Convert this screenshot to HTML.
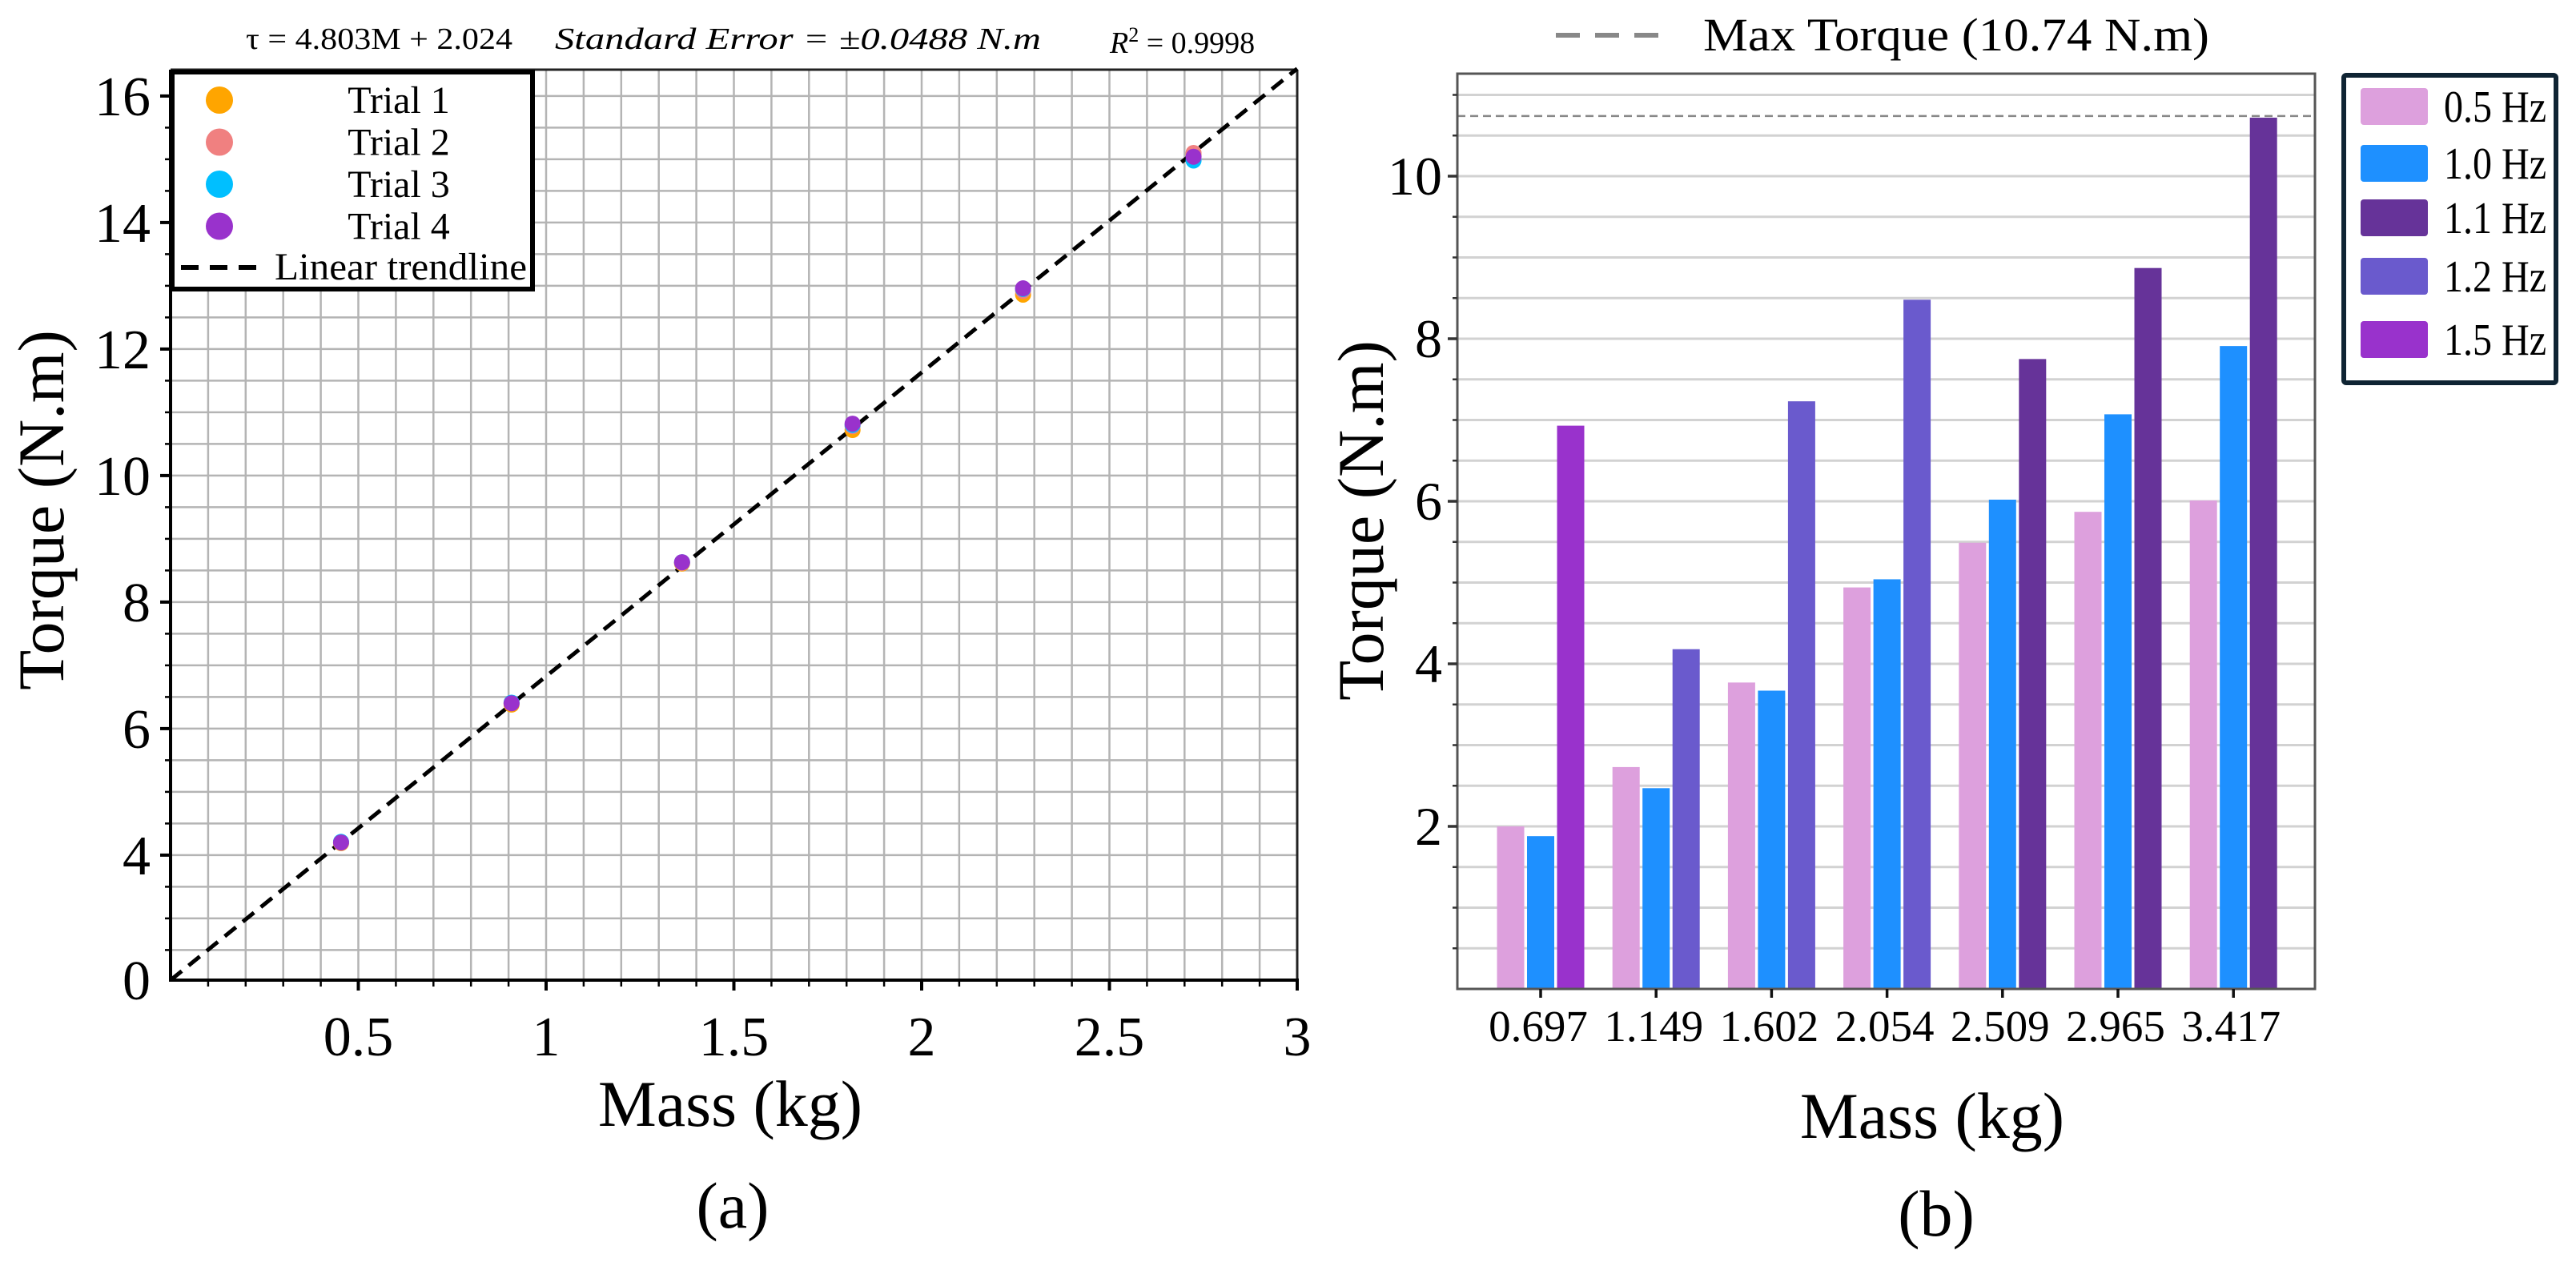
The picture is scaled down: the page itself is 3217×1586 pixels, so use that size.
<!DOCTYPE html>
<html><head><meta charset="utf-8">
<style>
html,body{margin:0;padding:0;background:#fff;}
svg{display:block;font-family:"Liberation Serif",serif;}
</style></head>
<body>
<svg id="chart" width="3217" height="1586" viewBox="0 0 3217 1586" xmlns="http://www.w3.org/2000/svg">
<g id="left"></g>
<g id="right"></g>
</svg>
<script>
// ---- Panel (a) data ----
const massA = [0.454, 0.908, 1.362, 1.816, 2.270, 2.724];
const trial1 = [4.19, 6.38, 8.61, 10.72, 12.86, 15.08];
const trial2 = [4.20, 6.40, 8.62, 10.78, 12.92, 15.10];
const trial3 = [4.21, 6.41, 8.63, 10.80, 12.95, 14.98];
const trial4 = [4.20, 6.40, 8.63, 10.82, 12.96, 15.04];
const trialNames = ["Trial 1", "Trial 2", "Trial 3", "Trial 4"];
const trendSlope = [4.803];
const trendIntercept = [2.024];
const xTicksA = [0.5, 1, 1.5, 2, 2.5, 3];
const yTicksA = [4, 6, 8, 10, 12, 14, 16];

// ---- Panel (b) data ----
const massB = ["0.697", "1.149", "1.602", "2.054", "2.509", "2.965", "3.417"];
const freqNames = ["0.5 Hz", "1.0 Hz", "1.1 Hz", "1.2 Hz", "1.5 Hz"];
const val05 = [2.00, 2.73, 3.77, 4.94, 5.49, 5.87, 6.01];
const val10 = [1.88, 2.47, 3.67, 5.04, 6.02, 7.07, 7.91];
const valThird = [6.93, 4.18, 7.23, 8.48, 7.75, 8.87, 10.72];
const thirdFreq = ["1.5 Hz", "1.2 Hz", "1.2 Hz", "1.2 Hz", "1.1 Hz", "1.1 Hz", "1.1 Hz"];
const maxTorque = [10.74];
const yTicksB = [2, 4, 6, 8, 10];

const NS = "http://www.w3.org/2000/svg";
function mk(parent, tag, attrs, text) {
  const e = document.createElementNS(NS, tag);
  for (const k in attrs) e.setAttribute(k, attrs[k]);
  if (text !== undefined) e.textContent = text;
  parent.appendChild(e);
  return e;
}

// ================= Panel (a) =================
const L = document.getElementById('left');
const ax = {x0: 213, x1: 1620, yb: 1224, yt: 87, vmin: 2.024, ppu: 79};
const xA = v => ax.x0 + v * (ax.x1 - ax.x0) / 3;
const yA = v => ax.yb - (v - ax.vmin) * ax.ppu;

for (let i = 1; i < 30; i++) {
  const g = mk(L, 'line', {x1: xA(i / 10), x2: xA(i / 10), y1: ax.yt, y2: ax.yb, stroke: '#b4b4b4', 'stroke-width': 2.5});
  
  
}
for (let v = 2.5; v <= 16.4; v += 0.5) {
  const g = mk(L, 'line', {x1: ax.x0, x2: ax.x1, y1: yA(v), y2: yA(v), stroke: '#b4b4b4', 'stroke-width': 2.5});
  
  
}
let f = mk(L, 'line', {x1: ax.x0, x2: ax.x1, y1: ax.yt, y2: ax.yt, stroke: '#222', 'stroke-width': 3});
 
f = mk(L, 'line', {x1: ax.x1, x2: ax.x1, y1: ax.yt, y2: ax.yb, stroke: '#222', 'stroke-width': 3});
 
f = mk(L, 'line', {x1: ax.x0, x2: ax.x0, y1: ax.yt, y2: ax.yb + 2, stroke: '#000', 'stroke-width': 4});
 
f = mk(L, 'line', {x1: ax.x0, x2: ax.x1 + 2, y1: ax.yb, y2: ax.yb, stroke: '#000', 'stroke-width': 4});
 

for (let i = 1; i <= 30; i++) {
  const major = i % 5 === 0;
  const t = mk(L, 'line', {x1: xA(i / 10), x2: xA(i / 10), y1: ax.yb, y2: ax.yb + (major ? 13 : 8), stroke: '#000', 'stroke-width': major ? 4 : 2.5});
   
}
xTicksA.forEach(v => {
  const t = mk(L, 'text', {x: xA(v), y: 1318, 'font-size': 70, 'text-anchor': 'middle'}, String(v));
   
});
for (let v = 2.5; v <= 16.4; v += 0.5) {
  const major = Math.abs(v - Math.round(v)) < 1e-6 && Math.round(v) % 2 === 0;
  const t = mk(L, 'line', {x1: ax.x0 - (major ? 13 : 7), x2: ax.x0, y1: yA(v), y2: yA(v), stroke: '#000', 'stroke-width': major ? 4 : 2.5});
   
}
yTicksA.forEach(v => {
  const t = mk(L, 'text', {x: 188, y: yA(v) + 24, 'font-size': 70, 'text-anchor': 'end'}, String(v));
   
});
let z = mk(L, 'text', {x: 188, y: ax.yb + 24, 'font-size': 70, 'text-anchor': 'end'}, '0');
 

const tl = mk(L, 'line', {x1: xA(0), y1: yA(trendIntercept[0]), x2: xA(3), y2: yA(trendSlope[0] * 3 + trendIntercept[0]), stroke: '#000', 'stroke-width': 5, 'stroke-dasharray': '18 11'});
 

const trialColors = ['#ffa500', '#f08080', '#00bfff', '#9932cc'];
[trial1, trial2, trial3, trial4].forEach((arr, k) => {
  arr.forEach((v, i) => {
    const c = mk(L, 'circle', {cx: xA(massA[i]), cy: yA(v), r: 10, fill: trialColors[k]});
    
    
  });
});

const lg = mk(L, 'g', {});
 
mk(lg, 'rect', {x: 215, y: 90, width: 450, height: 271, fill: '#fff', stroke: '#000', 'stroke-width': 6});
trialNames.forEach((n, k) => {
  const cy = 125 + k * 52.5;
  const e = mk(lg, 'g', {});
   
  mk(e, 'circle', {cx: 274, cy: cy, r: 17, fill: trialColors[k]});
  mk(e, 'text', {x: 498, y: cy + 16, 'font-size': 48, 'text-anchor': 'middle'}, n);
});
const le = mk(lg, 'g', {});
 
mk(le, 'line', {x1: 226, x2: 320, y1: 334, y2: 334, stroke: '#000', 'stroke-width': 6, 'stroke-dasharray': '22 14'});
mk(le, 'text', {x: 343, y: 349, 'font-size': 48, textLength: 315, lengthAdjust: 'spacingAndGlyphs'}, 'Linear trendline');

let a = mk(L, 'text', {x: 307, y: 61, 'font-size': 38, textLength: 333, lengthAdjust: 'spacingAndGlyphs'}, 'τ = 4.803M + 2.024');
 
a = mk(L, 'text', {x: 693, y: 61, 'font-size': 38, 'font-style': 'italic', textLength: 607, lengthAdjust: 'spacingAndGlyphs'}, 'Standard Error =  ±0.0488 N.m');
 
a = mk(L, 'text', {x: 1386, y: 66, 'font-size': 38});
 
mk(a, 'tspan', {'font-style': 'italic'}, 'R');
mk(a, 'tspan', {dy: -14, 'font-size': 26}, '2');
mk(a, 'tspan', {dy: 14}, ' = 0.9998');

a = mk(L, 'text', {x: 912, y: 1406, 'font-size': 82, 'text-anchor': 'middle'}, 'Mass (kg)');
 
a = mk(L, 'text', {x: 0, y: 0, 'font-size': 82, 'text-anchor': 'middle', transform: 'translate(79,637) rotate(-90)'}, 'Torque (N.m)');
 
a = mk(L, 'text', {x: 915, y: 1533, 'font-size': 82, 'text-anchor': 'middle'}, '(a)');
 

// ================= Panel (b) =================
const R = document.getElementById('right');
const bx = {x0: 1820, x1: 2891, yb: 1235, yt: 92, ppu: 101.5, c0: 1924, step: 144.2};
const yB = v => bx.yb - v * bx.ppu;
const xB = i => bx.c0 + i * bx.step;

for (let v = 0.5; v <= 11.2; v += 0.5) {
  const g = mk(R, 'line', {x1: bx.x0, x2: bx.x1, y1: yB(v), y2: yB(v), stroke: '#d2d2d2', 'stroke-width': 3});
  
  
}
const colorOf = {"0.5 Hz": '#dda0dd', "1.0 Hz": '#1e90ff', "1.1 Hz": '#663399', "1.2 Hz": '#6a5acd', "1.5 Hz": '#9932cc'};
const bw = 34, slot = 37.5;
massB.forEach((m, i) => {
  const series = [[val05[i], "0.5 Hz"], [val10[i], "1.0 Hz"], [valThird[i], thirdFreq[i]]];
  series.forEach((s, k) => {
    const x = xB(i) + (k - 1) * slot - bw / 2;
    const b = mk(R, 'rect', {x: x, y: yB(s[0]), width: bw, height: s[0] * bx.ppu, fill: colorOf[s[1]]});
    
    
  });
});
let ml = mk(R, 'line', {x1: bx.x0, x2: bx.x1, y1: yB(maxTorque[0]), y2: yB(maxTorque[0]), stroke: '#888', 'stroke-width': 2.5, 'stroke-dasharray': '10 6'});
 
let fr = mk(R, 'rect', {x: bx.x0, y: bx.yt, width: bx.x1 - bx.x0, height: bx.yb - bx.yt, fill: 'none', stroke: '#555', 'stroke-width': 3});
 
for (let v = 0.5; v <= 11.2; v += 0.5) {
  const major = yTicksB.indexOf(v) >= 0;
  const t = mk(R, 'line', {x1: bx.x0 - (major ? 12 : 6), x2: bx.x0, y1: yB(v), y2: yB(v), stroke: '#333', 'stroke-width': major ? 3.5 : 2.5});
   
}
yTicksB.forEach(v => {
  const t = mk(R, 'text', {x: 1801, y: yB(v) + 23, 'font-size': 68, 'text-anchor': 'end'}, String(v));
   
});
massB.forEach((m, i) => {
  const t = mk(R, 'line', {x1: xB(i), x2: xB(i), y1: bx.yb, y2: bx.yb + 11, stroke: '#111', 'stroke-width': 3.5});
   
  const l = mk(R, 'text', {x: xB(i) - 3, y: 1300, 'font-size': 55, 'text-anchor': 'middle'}, m);
   
});
const tlg = mk(R, 'g', {});
 
mk(tlg, 'line', {x1: 1943, x2: 2083, y1: 44, y2: 44, stroke: '#888', 'stroke-width': 6, 'stroke-dasharray': '30 19'});
mk(tlg, 'text', {x: 2127, y: 63, 'font-size': 58, textLength: 632, lengthAdjust: 'spacingAndGlyphs'}, 'Max Torque (10.74 N.m)');
const rlg = mk(R, 'g', {});
 
mk(rlg, 'rect', {x: 2927, y: 94, width: 265, height: 384, fill: '#fff', stroke: '#0f2433', 'stroke-width': 6, rx: 3});
const rowY = [133, 204, 272, 345, 424];
freqNames.forEach((n, k) => {
  const e = mk(rlg, 'g', {});
   
  mk(e, 'rect', {x: 2948, y: rowY[k] - 23, width: 84, height: 46, rx: 4, fill: colorOf[n]});
  mk(e, 'text', {x: 3052, y: rowY[k] + 19, 'font-size': 56, textLength: 128, lengthAdjust: 'spacingAndGlyphs'}, n);
});
a = mk(R, 'text', {x: 2413, y: 1421, 'font-size': 82, 'text-anchor': 'middle'}, 'Mass (kg)');
 
a = mk(R, 'text', {x: 0, y: 0, 'font-size': 82, 'text-anchor': 'middle', transform: 'translate(1727,650) rotate(-90)'}, 'Torque (N.m)');
 
a = mk(R, 'text', {x: 2418, y: 1543, 'font-size': 82, 'text-anchor': 'middle'}, '(b)');
 
</script>
</body></html>
